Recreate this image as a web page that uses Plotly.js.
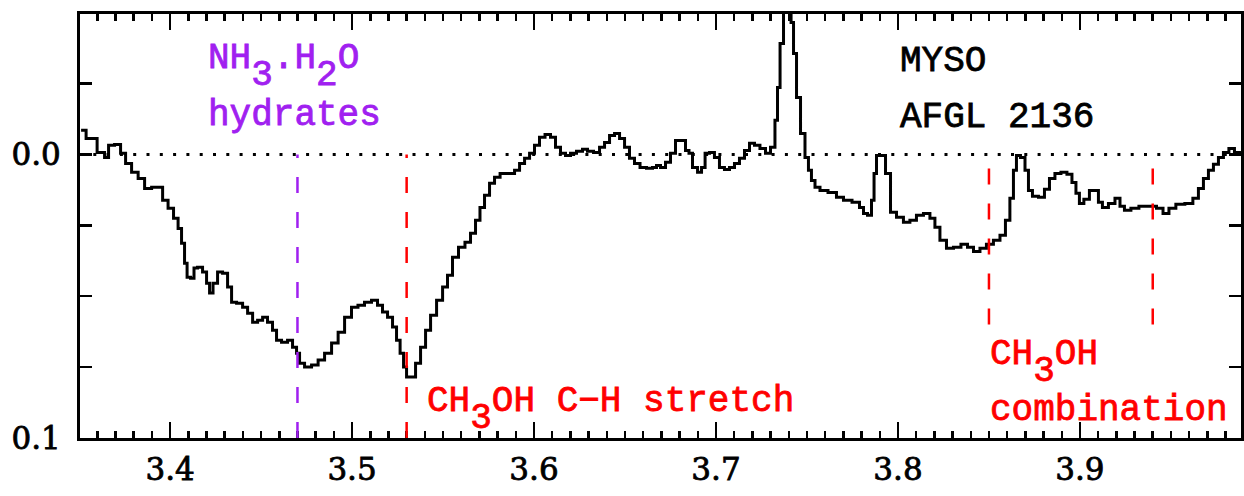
<!DOCTYPE html>
<html><head><meta charset="utf-8">
<script src="https://cdn.plot.ly/plotly-3.0.1.min.js"></script>
<style>html,body{margin:0;padding:0;background:#fff}#chart{width:1244px;height:496px}</style>
</head><body><div id="chart"></div>
<script>
// wavelength (micron)
const wavelength = [
3.3511,3.3566,3.3632,3.3648,3.3676,3.3714,3.3742,3.3769,3.3808,3.3841,
3.3879,3.3918,3.3945,3.3973,3.4005,3.4033,3.4055,3.4071,3.4088,3.4099,
3.4126,3.4137,3.4165,3.4192,3.4209,3.4225,3.4247,3.4275,3.4302,3.4330,
3.4346,3.4385,3.4412,3.4440,3.4467,3.4495,3.4522,3.4549,3.4577,3.4593,
3.4632,3.4659,3.4687,3.4703,3.4720,3.4758,3.4797,3.4830,3.4868,3.4907,
3.4940,3.4978,3.5016,3.5049,3.5088,3.5126,3.5154,3.5181,3.5209,3.5236,
3.5253,3.5275,3.5291,3.5308,3.5335,3.5363,3.5390,3.5418,3.5445,3.5484,
3.5511,3.5538,3.5566,3.5604,3.5637,3.5665,3.5692,3.5714,3.5742,3.5769,
3.5797,3.5830,3.5879,3.5907,3.5934,3.5962,3.5989,3.6016,3.6044,3.6077,
3.6104,3.6132,3.6159,3.6187,3.6214,3.6253,3.6280,3.6308,3.6346,3.6374,
3.6401,3.6429,3.6456,3.6484,3.6511,3.6538,3.6566,3.6599,3.6637,3.6665,
3.6681,3.6709,3.6736,3.6764,3.6791,3.6819,3.6846,3.6857,3.6885,3.6912,
3.6929,3.6951,3.6978,3.7005,3.7033,3.7060,3.7088,3.7115,3.7143,3.7170,
3.7198,3.7225,3.7258,3.7286,3.7313,3.7335,3.7341,3.7363,3.7379,3.7407,
3.7418,3.7434,3.7451,3.7478,3.7500,3.7516,3.7533,3.7555,3.7588,3.7643,
3.7681,3.7720,3.7775,3.7802,3.7819,3.7846,3.7863,3.7874,3.7890,3.7918,
3.7945,3.7973,3.8011,3.8049,3.8082,3.8121,3.8159,3.8192,3.8214,3.8247,
3.8286,3.8324,3.8368,3.8396,3.8434,3.8467,3.8505,3.8544,3.8577,3.8604,
3.8626,3.8643,3.8659,3.8687,3.8709,3.8725,3.8753,3.8791,3.8819,3.8846,
3.8879,3.8912,3.8945,3.8967,3.8989,3.9005,3.9038,3.9066,3.9093,3.9110,
3.9137,3.9176,3.9209,3.9231,3.9258,3.9302,3.9346,3.9401,3.9440,3.9473,
3.9505,3.9549,3.9604,3.9637,3.9665,3.9692,3.9720,3.9747,3.9775,3.9802,
3.9835,3.9863,3.9890
];
// optical depth (axis reversed)
const opticalDepth = [
-0.0085,-0.0056,-0.0007,0.0011,-0.0032,-0.0035,-0.0004,0.0032,0.0063,0.0085,
0.0120,0.0116,0.0116,0.0162,0.0190,0.0225,0.0261,0.0313,0.0384,0.0433,
0.0437,0.0401,0.0398,0.0415,0.0454,0.0489,0.0454,0.0415,0.0419,0.0468,
0.0521,0.0525,0.0539,0.0560,0.0592,0.0585,0.0574,0.0592,0.0620,0.0655,
0.0662,0.0655,0.0680,0.0701,0.0736,0.0750,0.0743,0.0725,0.0701,0.0665,
0.0627,0.0574,0.0539,0.0532,0.0521,0.0514,0.0532,0.0556,0.0574,0.0609,
0.0655,0.0701,0.0750,0.0785,0.0785,0.0736,0.0680,0.0620,0.0567,0.0514,
0.0468,0.0426,0.0363,0.0327,0.0310,0.0278,0.0232,0.0187,0.0144,0.0102,
0.0081,0.0067,0.0067,0.0056,0.0032,0.0014,-0.0004,-0.0032,-0.0060,-0.0070,
-0.0060,-0.0025,-0.0004,0.0004,-0.0004,-0.0011,-0.0018,-0.0011,-0.0007,-0.0025,
-0.0042,-0.0067,-0.0074,-0.0056,-0.0025,0.0014,0.0032,0.0046,0.0049,0.0046,
0.0039,0.0046,0.0028,-0.0004,-0.0049,-0.0049,-0.0014,-0.0004,0.0046,0.0063,
0.0046,-0.0004,-0.0007,0.0011,0.0046,0.0053,0.0046,0.0032,0.0014,-0.0014,
-0.0039,-0.0032,-0.0021,-0.0004,-0.0025,-0.0120,-0.0236,-0.0391,-0.0560,-0.0560,
-0.0465,-0.0356,-0.0201,-0.0074,0.0011,0.0056,0.0092,0.0116,0.0127,0.0134,
0.0151,0.0162,0.0169,0.0187,0.0208,0.0215,0.0162,0.0067,0.0004,0.0004,
0.0067,0.0204,0.0222,0.0239,0.0232,0.0215,0.0208,0.0225,0.0257,0.0303,
0.0331,0.0327,0.0317,0.0327,0.0342,0.0331,0.0317,0.0303,0.0285,0.0232,
0.0155,0.0056,0.0004,0.0011,0.0056,0.0127,0.0148,0.0151,0.0123,0.0085,
0.0067,0.0063,0.0070,0.0099,0.0137,0.0173,0.0158,0.0127,0.0127,0.0169,
0.0187,0.0173,0.0155,0.0183,0.0197,0.0190,0.0183,0.0183,0.0190,0.0208,
0.0190,0.0176,0.0173,0.0155,0.0120,0.0085,0.0056,0.0035,0.0011,-0.0007,
-0.0021,-0.0007,-0.0004
];
// feature markers
const featureX = [3.47, 3.53, 3.85, 3.94];
const featureTop = [0, 0, 0.005, 0.005];
const featureBottom = [0.1, 0.1, 0.06, 0.06];
const featureColor = ['#A020F0', '#FF0000', '#FF0000', '#FF0000'];
const zeroLevel = [0];
const xRange = [3.3505, 3.9885];
const yRange = [0.1, -0.0495];
const yTickVals = [-0.05, -0.025, 0, 0.025, 0.05, 0.075, 0.1];
const yTickText = ['', '', '0.0', '', '', '', '0.1'];

const txtFont = 'Liberation Mono, DejaVu Sans Mono, monospace';
const numFont = 'DejaVu Serif, Liberation Serif, serif';
const sub = d => '<span style="baseline-shift:-17px">' + d + '</span>';

const shapes = [];
shapes.push({type:'line', xref:'paper', yref:'y', x0:0, x1:1, y0:zeroLevel[0], y1:zeroLevel[0],
  line:{color:'black', width:3, dash:'3px,10.3px'}});
featureX.forEach((fx, i) => {
  shapes.push({type:'line', xref:'x', yref:'y', x0:fx, x1:fx, y0:featureBottom[i], y1:featureTop[i],
    line:{color:featureColor[i], width:2.5, dash:'16px,19px'}});
});

function ann(text, x, y, color) {
  return {text, xref:'paper', yref:'paper', x, y, xanchor:'left', yanchor:'middle',
    showarrow:false, borderpad:0, borderwidth:0,
    font:{family:txtFont, size:36, color}};
}
const PURPLE = '#A020F0', RED = '#FF0000';
const annotations = [
  ann('NH' + sub('3') + '.H' + sub('2') + 'O', 0.1102, 0.874, PURPLE),
  ann('hydrates', 0.1102, 0.761, PURPLE),
  ann('MYSO', 0.7063, 0.887, 'black'),
  ann('AFGL 2136', 0.7063, 0.755, 'black'),
  ann('CH' + sub('3') + 'OH C\u2212H stretch', 0.2989, 0.067, RED),
  ann('CH' + sub('3') + 'OH', 0.7838, 0.176, RED),
  ann('combination', 0.7838, 0.066, RED)
];

const trace = {x: wavelength, y: opticalDepth, mode:'lines', type:'scatter',
  line:{color:'black', width:3, shape:'hvh'}, hoverinfo:'skip'};

const layout = {
  width:1244, height:496,
  margin:{l:80, r:3, t:14, b:58, pad:0},
  paper_bgcolor:'white', plot_bgcolor:'white',
  showlegend:false,
  xaxis:{range:xRange, showgrid:false, zeroline:false, showline:true, linecolor:'black', linewidth:3,
    mirror:'allticks', ticks:'inside', ticklen:16, tickwidth:2.5, tickcolor:'black',
    tick0:3.4, dtick:0.1, tickformat:'.1f', ticklabelstandoff:2,
    tickfont:{family:numFont, size:31, color:'black'},
    minor:{dtick:0.01, tick0:3.4, ticks:'inside', ticklen:7, tickwidth:2.5, tickcolor:'black', showgrid:false}},
  yaxis:{range:yRange, showgrid:false, zeroline:false, showline:true, linecolor:'black', linewidth:3,
    mirror:'allticks', ticks:'inside', ticklen:12, tickwidth:2.5, tickcolor:'black',
    tickmode:'array', tickvals:yTickVals, ticktext:yTickText, ticklabelstandoff:10,
    tickfont:{family:numFont, size:31, color:'black'}},
  shapes, annotations
};
Plotly.newPlot('chart', [trace], layout, {displayModeBar:false, staticPlot:true}).then(gd => {
  // thicken glyph strokes slightly, like the original's heavier lettering
  gd.querySelectorAll('.annotation-text, .xtick text, .ytick text').forEach(t => {
    const f = t.style.fill || 'black';
    t.style.stroke = f;
    t.style.strokeWidth = '0.8px';
  });
});
</script>
</body></html>
